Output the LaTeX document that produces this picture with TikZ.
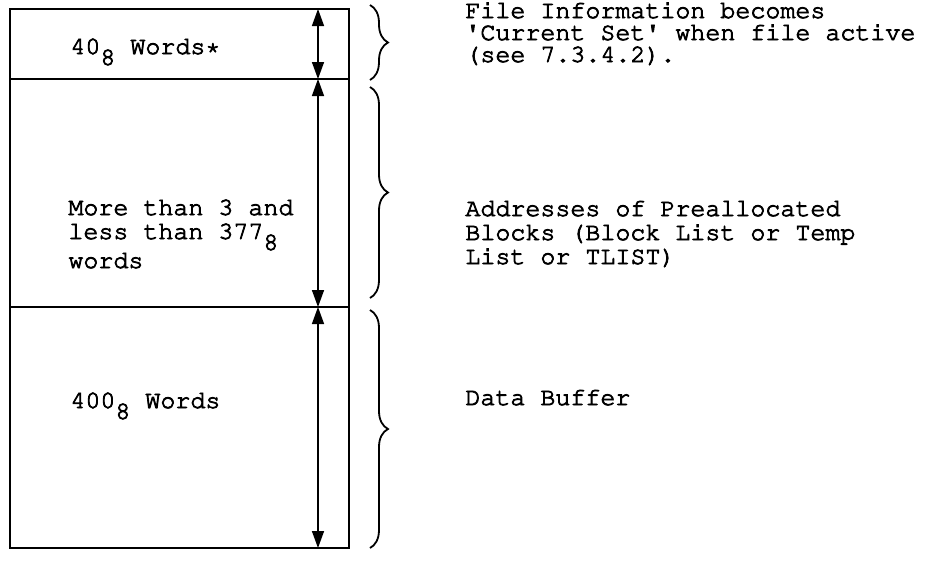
\documentclass[tikz,border=0pt]{standalone}
\usepackage[T1]{fontenc}
\usepackage{courier}
\usetikzlibrary{arrows.meta,decorations.pathreplacing}
\newcommand\oct{\raisebox{-5.5pt}{8}}
\newcommand\inked{\special{pdf:literal direct 2 Tr 0.4 w}}
\lineskiplimit=-20pt
\tikzset{
  txt/.style={anchor=base west, inner sep=0pt, align=left,
    font=\ttfamily\fontsize{12.5}{#1}\selectfont\inked},
  txt/.default=12pt,
  dim/.style={{Triangle[length=8.5pt,width=6pt]}-{Triangle[length=8.5pt,width=6pt]},
    line width=.75pt},
  curly/.style={decorate, decoration={brace, amplitude=9pt}, line width=.9pt},
}
\begin{document}
\begin{tikzpicture}[x=.5pt,y=-.5pt]
  \useasboundingbox (0,0) rectangle (950,563);
  % the three parts of the file block
  \draw[line width=1pt] (10,9) rectangle (349,548);
  \foreach \y in {79,307}
    \draw[line width=1pt] (10,\y) -- (349,\y);
  % size arrows
  \foreach \y [count=\i] in {9,79,307,548}
    \coordinate (m\i) at (318,\y);
  \foreach \i/\j in {1/2,2/3,3/4}
    \draw[dim] (m\i) -- (m\j);
  % braces
  \foreach \a/\b [count=\i] in {5/80,87/298,310/548}{
    \coordinate (b\i) at (370,\a);
    \coordinate (e\i) at (370,\b);
    \draw[curly] (b\i) -- (e\i);
  }
  % sizes (base anchor = last line)
  \node[txt] (hdr) at (70,54) {40\oct{} Words*};
  \node[txt] (lst) at (68,268) {More than 3 and\\less than 377\oct\\[2.5pt]words};
  \node[txt] (buf) at (70,408) {400\oct{} Words};
  % what each part holds
  \node[txt=11pt] (info) at (465,62)
    {File Information becomes\\\textquotesingle Current Set\textquotesingle{} when file active\\(see 7.3.4.2).};
  \node[txt] (addr) at (465,264)
    {Addresses of Preallocated\\Blocks (Block List or Temp\\List or TLIST)};
  \node[txt] (data) at (465,405) {Data Buffer};
\end{tikzpicture}
\end{document}
